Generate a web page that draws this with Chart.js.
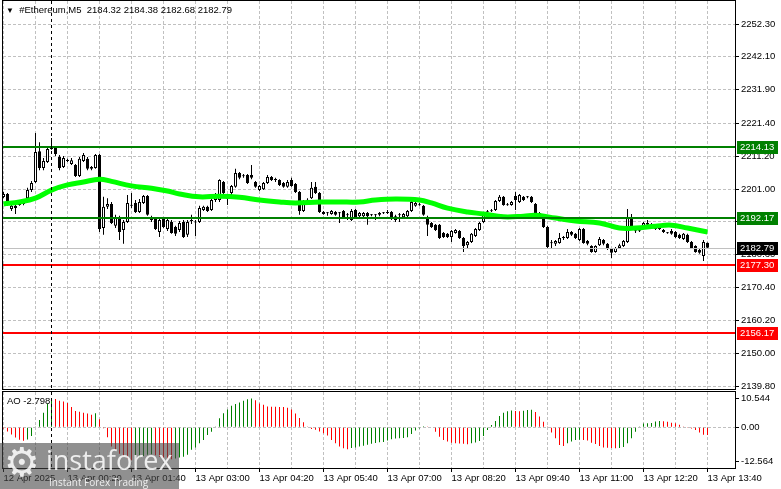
<!DOCTYPE html>
<html>
<head>
<meta charset="utf-8">
<title>#Ethereum M5</title>
<script src="https://cdn.jsdelivr.net/npm/chart.js@4.4.1/dist/chart.umd.min.js"></script>
<style>
    html, body { margin: 0; padding: 0; background: #ffffff; }
    #wrap { position: relative; width: 781px; height: 489px; overflow: hidden; background: #ffffff; }
    #priceCanvas { position: absolute; left: 0; top: 0; }
    #aoCanvas { position: absolute; left: 0; top: 390px; }
    .caption { position: absolute; font: 9.5px "Liberation Sans", Arial, sans-serif; color: #000; white-space: pre; }
    #watermark { position: absolute; left: 0; top: 443px; width: 179px; height: 46px; background: rgba(70, 70, 70, 0.6); overflow: hidden; }
    #wmIcon { position: absolute; left: 4px; top: -4px; font: 40px "DejaVu Sans", sans-serif; color: rgba(255, 255, 255, 0.85); }
    #wmName { position: absolute; left: 46px; top: -2px; font: 27px "Open Sans", sans-serif; color: rgba(255, 255, 255, 0.85); }
    #wmSlogan { position: absolute; left: 49px; top: 32px; font: 10px "Open Sans", sans-serif; color: rgba(255, 255, 255, 0.85); }
</style>
</head>
<body>
<div id="wrap">
    <canvas id="priceCanvas" width="781" height="396"></canvas>
    <canvas id="aoCanvas" width="781" height="99"></canvas>
    <div class="caption" style="left:6px; top:4px;"><span style="font-size:8px;">&#9660;</span>  #Ethereum,M5  2184.32 2184.38 2182.68 2182.79</div>
    <div class="caption" style="left:7px; top:395px;">AO -2.798</div>
    <div id="watermark">
        <div id="wmIcon">&#9881;</div>
        <div id="wmName">instaforex</div>
        <div id="wmSlogan">Instant Forex Trading</div>
    </div>
</div>
<script>
// M5 candles, bar 0 = 12 Apr 23:00, bar 176 = 13 Apr 13:40
const opens = [
    2198.55, 2199.5, 2194.8, 2195.8, 2196.1, 2196.4, 2198.2, 2200.7, 2203.2, 2212.8,
    2207.6, 2209.4, 2213.5, 2214.1, 2211.0, 2207.9, 2210.0, 2208.8, 2208.5, 2205.1,
    2209.7, 2210.4, 2207.3, 2207.6, 2211.6, 2188.9, 2195.5, 2196.4, 2189.6, 2192.0,
    2188.3, 2190.8, 2196.1, 2196.7, 2193.9, 2196.7, 2198.9, 2192.3, 2191.7, 2187.7,
    2191.7, 2188.6, 2190.8, 2189.2, 2188.3, 2190.8, 2186.8, 2191.1, 2190.8, 2190.8,
    2194.5, 2195.5, 2194.5, 2197.6, 2197.6, 2203.2, 2198.6, 2199.8, 2201.7, 2206.0,
    2205.1, 2205.4, 2205.4, 2203.2, 2200.7, 2201.0, 2202.9, 2204.8, 2203.8, 2203.8,
    2202.9, 2201.7, 2203.8, 2202.6, 2200.1, 2194.2, 2197.4, 2198.2, 2201.7, 2199.8,
    2193.9, 2193.6, 2193.3, 2193.9, 2193.6, 2194.2, 2193.0, 2191.4, 2194.5, 2192.6,
    2192.6, 2193.6, 2193.0, 2192.9, 2193.0, 2193.5, 2193.9, 2193.9, 2191.4, 2192.9,
    2192.3, 2192.6, 2194.2, 2195.8, 2196.1, 2195.8, 2192.3, 2190.5, 2189.9, 2189.9,
    2187.4, 2187.1, 2186.1, 2187.4, 2188.0, 2185.8, 2183.6, 2184.6, 2186.4, 2188.3,
    2190.8, 2193.8, 2194.1, 2194.5, 2197.3, 2198.6, 2196.1, 2196.1, 2198.9, 2197.0,
    2198.6, 2198.5, 2198.6, 2196.4, 2193.6, 2191.7, 2189.2, 2184.2, 2184.0, 2184.3,
    2185.8, 2185.8, 2187.7, 2187.1, 2185.2, 2188.6, 2184.9, 2183.3, 2181.5, 2183.6,
    2185.2, 2184.0, 2182.4, 2181.5, 2182.7, 2183.3, 2184.6, 2192.0, 2188.0, 2187.9,
    2189.5, 2190.5, 2189.9, 2188.6, 2188.6, 2188.3, 2187.4, 2188.0, 2187.7, 2186.8,
    2185.5, 2186.8, 2184.6, 2183.3, 2182.1, 2180.2, 2184.32
];
const highs = [
    2200.11, 2199.8, 2196.1, 2196.1, 2197.3, 2197.6, 2201.4, 2203.5, 2218.4, 2215.6,
    2210.7, 2214.4, 2216.9, 2214.4, 2211.6, 2211.3, 2210.4, 2210.7, 2208.8, 2211.0,
    2212.2, 2211.0, 2208.2, 2211.9, 2211.9, 2198.6, 2198.2, 2197.0, 2193.0, 2192.7,
    2191.4, 2199.2, 2199.8, 2197.6, 2197.9, 2199.2, 2199.2, 2192.7, 2192.0, 2192.0,
    2192.0, 2191.7, 2191.4, 2189.6, 2191.1, 2191.4, 2191.4, 2193.0, 2191.4, 2195.8,
    2195.8, 2195.8, 2198.2, 2199.8, 2204.1, 2203.5, 2199.2, 2202.3, 2207.3, 2206.3,
    2205.7, 2205.7, 2208.5, 2203.5, 2202.3, 2203.2, 2205.4, 2205.1, 2204.5, 2204.1,
    2203.2, 2203.8, 2204.5, 2202.9, 2200.4, 2197.6, 2198.2, 2203.2, 2203.2, 2200.1,
    2194.2, 2193.9, 2194.5, 2194.2, 2193.9, 2194.5, 2193.6, 2194.8, 2194.8, 2193.9,
    2193.9, 2193.9, 2193.3, 2193.3, 2193.9, 2193.9, 2194.5, 2194.2, 2193.0, 2193.6,
    2193.6, 2194.5, 2197.6, 2197.6, 2196.7, 2196.1, 2192.7, 2190.8, 2190.2, 2190.2,
    2187.7, 2187.4, 2188.3, 2188.6, 2188.3, 2186.1, 2184.9, 2187.4, 2188.9, 2190.8,
    2193.9, 2194.5, 2194.8, 2197.6, 2199.2, 2198.9, 2196.7, 2197.3, 2200.1, 2199.5,
    2198.9, 2198.9, 2198.9, 2196.7, 2193.9, 2192.0, 2189.6, 2185.2, 2185.2, 2187.4,
    2186.4, 2188.6, 2188.0, 2187.4, 2188.9, 2188.9, 2185.2, 2183.6, 2183.6, 2186.1,
    2185.5, 2184.3, 2182.7, 2183.0, 2184.0, 2185.2, 2194.8, 2193.3, 2188.6, 2188.3,
    2190.8, 2191.4, 2190.5, 2189.9, 2188.9, 2188.6, 2187.7, 2188.6, 2188.0, 2187.1,
    2187.4, 2187.1, 2184.9, 2183.6, 2182.4, 2185.2, 2184.38
];
const lows = [
    2198.24, 2195.8, 2194.2, 2193.3, 2195.8, 2196.0, 2197.6, 2200.1, 2202.9, 2206.9,
    2206.9, 2209.1, 2213.2, 2211.3, 2206.9, 2207.6, 2209.4, 2208.5, 2204.8, 2204.8,
    2209.4, 2206.9, 2206.9, 2207.3, 2187.7, 2186.8, 2194.8, 2190.2, 2188.9, 2185.2,
    2184.0, 2190.5, 2195.1, 2193.6, 2193.6, 2196.4, 2192.7, 2190.8, 2188.3, 2186.1,
    2188.9, 2188.0, 2187.1, 2186.4, 2187.7, 2185.8, 2186.1, 2190.2, 2186.4, 2190.5,
    2194.2, 2193.9, 2194.2, 2197.0, 2197.0, 2199.2, 2196.1, 2199.2, 2201.4, 2204.1,
    2204.5, 2202.6, 2204.1, 2201.4, 2200.4, 2200.7, 2202.6, 2203.5, 2203.2, 2202.0,
    2201.4, 2201.4, 2201.7, 2199.8, 2193.0, 2193.9, 2197.0, 2197.9, 2199.5, 2193.6,
    2193.0, 2192.7, 2193.0, 2192.7, 2190.5, 2192.0, 2191.4, 2191.1, 2192.0, 2192.3,
    2192.3, 2189.9, 2192.6, 2191.4, 2192.6, 2193.3, 2193.3, 2191.4, 2190.8, 2190.8,
    2192.0, 2192.3, 2193.9, 2195.5, 2195.8, 2192.7, 2186.4, 2188.9, 2188.0, 2185.5,
    2185.8, 2185.8, 2184.6, 2187.1, 2185.5, 2181.5, 2182.7, 2184.3, 2186.1, 2188.0,
    2190.5, 2193.3, 2193.9, 2194.2, 2197.0, 2195.8, 2195.8, 2195.8, 2194.5, 2196.7,
    2197.3, 2198.2, 2196.7, 2193.3, 2193.0, 2188.9, 2182.7, 2182.7, 2183.3, 2184.0,
    2185.2, 2185.5, 2186.4, 2185.5, 2184.9, 2184.0, 2183.6, 2181.2, 2181.2, 2183.3,
    2183.6, 2182.1, 2179.6, 2181.2, 2182.4, 2183.0, 2184.3, 2188.9, 2187.4, 2187.7,
    2189.2, 2189.5, 2189.5, 2188.3, 2188.3, 2187.4, 2187.1, 2186.8, 2185.8, 2185.5,
    2185.2, 2184.3, 2182.4, 2181.2, 2180.9, 2178.7, 2182.68
];
const closes = [
    2199.48, 2196.1, 2195.8, 2195.1, 2196.7, 2197.0, 2200.7, 2202.9, 2212.5, 2207.6,
    2209.7, 2213.5, 2214.4, 2211.9, 2207.6, 2210.7, 2209.7, 2210.0, 2205.1, 2210.4,
    2211.6, 2207.3, 2207.9, 2211.6, 2188.6, 2195.5, 2196.4, 2190.5, 2192.3, 2187.7,
    2190.8, 2196.7, 2195.8, 2193.9, 2197.0, 2198.9, 2193.0, 2191.4, 2188.6, 2191.4,
    2189.2, 2191.4, 2187.4, 2187.1, 2190.5, 2186.1, 2190.8, 2191.4, 2190.6, 2195.1,
    2195.5, 2194.2, 2197.6, 2199.5, 2203.8, 2199.8, 2197.9, 2202.0, 2206.0, 2204.5,
    2205.0, 2202.9, 2204.5, 2201.7, 2202.0, 2202.9, 2204.8, 2203.8, 2203.9, 2202.3,
    2201.7, 2203.2, 2202.0, 2200.1, 2194.2, 2197.3, 2197.6, 2201.4, 2199.8, 2193.9,
    2193.3, 2193.5, 2194.2, 2193.0, 2193.5, 2192.3, 2192.9, 2194.2, 2192.3, 2193.6,
    2193.6, 2192.6, 2192.9, 2193.0, 2193.6, 2193.6, 2193.6, 2192.3, 2192.6, 2193.0,
    2193.3, 2194.2, 2197.0, 2196.7, 2196.0, 2193.0, 2189.9, 2189.2, 2188.3, 2185.8,
    2186.1, 2186.1, 2188.0, 2188.3, 2185.8, 2183.3, 2184.6, 2187.1, 2188.6, 2190.5,
    2193.3, 2193.9, 2194.2, 2197.3, 2198.6, 2196.1, 2196.0, 2197.0, 2197.6, 2199.2,
    2197.6, 2198.6, 2197.0, 2193.6, 2193.3, 2189.2, 2183.0, 2184.3, 2184.9, 2185.8,
    2185.9, 2187.7, 2186.8, 2185.8, 2188.6, 2184.3, 2184.0, 2181.5, 2183.3, 2185.5,
    2184.0, 2182.4, 2181.2, 2182.7, 2183.6, 2184.9, 2192.0, 2189.2, 2187.9, 2188.0,
    2190.5, 2189.9, 2189.8, 2189.5, 2188.7, 2187.7, 2187.3, 2187.1, 2186.1, 2185.8,
    2187.1, 2184.6, 2182.7, 2181.5, 2181.2, 2184.6, 2182.79
];

// Awesome Oscillator, one value per bar
const aoValues = [
    -0.4, -1.5, -2.6, -3.7, -4.5, -4.9, -4.4, -3.2, 0.3, 2.7,
    5.3, 8.7, 10.5, 10.3, 9.7, 9.4, 8.8, 7.4, 5.9, 5.7,
    5.3, 5.0, 4.6, 5.1, 2.9, -0.3, -3.6, -7.0, -8.2, -9.6,
    -10.6, -11.4, -12.0, -11.6, -11.0, -10.4, -10.0, -9.8, -10.2, -10.7,
    -11.2, -11.5, -11.6, -11.3, -11.0, -10.7, -10.0, -8.2, -7.3, -5.8,
    -4.6, -2.8, -1.6, 0.3, 3.3, 5.1, 6.5, 7.8, 8.5, 9.0,
    9.7, 10.2, 10.5, 9.8, 8.7, 8.2, 7.6, 7.5, 7.45, 7.4,
    7.35, 7.1, 6.5, 5.0, 3.4, 1.8, 0.1, -0.6, -0.9, -1.5,
    -2.2, -3.0, -4.6, -5.8, -7.0, -7.6, -8.0, -7.5, -7.3, -7.0,
    -6.7, -6.3, -6.0, -5.7, -5.4, -5.3, -4.8, -4.3, -4.1, -3.95,
    -3.85, -3.6, -2.4, -1.2, -0.4, 0.4, 0.1, -0.2, -1.6, -3.4,
    -4.6, -5.2, -5.6, -5.8, -5.9, -6.0, -6.2, -5.8, -5.5, -5.0,
    -3.2, -1.0, 0.8, 2.3, 4.1, 5.3, 5.8, 6.1, 5.9, 5.8,
    6.0, 6.3, 6.4, 5.6, 3.9, 2.0, 0.1, -1.9, -4.0, -6.4,
    -6.8, -5.8, -5.2, -4.6, -4.5, -4.6, -4.8, -5.6, -6.1, -6.8,
    -7.3, -7.4, -7.5, -7.6, -7.5, -7.2, -5.8, -4.0, -1.6, 0.1,
    1.4, 1.5, 1.6, 2.1, 2.3, 2.2, 2.0, 1.7, 1.5, 0.9,
    0.3, -0.1, -0.4, -1.0, -1.9, -2.7, -2.798
];

// moving average at these bars
const maBars = [0, 4, 8, 12, 16, 20, 24, 27, 32, 37, 41, 44, 49, 54, 59, 64, 69, 73, 79, 84,
    89, 93, 98, 104, 107, 111, 116, 120, 125, 130, 133, 138, 143, 149, 154, 158, 163, 167, 171, 176];
const maValues = [2196.4, 2197.0, 2198.2, 2200.7, 2202.3, 2203.2, 2204.1, 2203.4, 2202.0, 2201.3,
    2200.4, 2199.5, 2198.6, 2198.8, 2198.5, 2197.6, 2197.0, 2196.7, 2197.0, 2197.0,
    2197.0, 2197.6, 2197.9, 2197.6, 2196.7, 2195.1, 2193.9, 2193.3, 2192.4, 2192.6,
    2192.9, 2192.0, 2191.1, 2190.5, 2188.9, 2188.9, 2189.5, 2189.8, 2188.9, 2187.7];

const priceTicks = [2252.30, 2242.10, 2231.90, 2221.40, 2211.20, 2201.00, 2190.80, 2180.60, 2170.40, 2160.20, 2150.00, 2139.80];
const aoTicks = [10.544, 0, -12.564];
const timeLabels = ['12 Apr 2025', '13 Apr 00:20', '13 Apr 01:40', '13 Apr 03:00', '13 Apr 04:20', '13 Apr 05:40',
    '13 Apr 07:00', '13 Apr 08:20', '13 Apr 09:40', '13 Apr 11:00', '13 Apr 12:20', '13 Apr 13:40'];

const resistanceLevels = [2214.13, 2192.17];
const supportLevels = [2177.30, 2156.17];
const lastPrice = 2182.79;
const dayBreakBar = 12;

// Layout
const X_MIN = -0.125;
const X_MAX = 182.875;
const gridBars = [];
for (let i = 0; i <= 176; i += 8) gridBars.push(i);

const colors = {
    grid: '#c0c0c0',
    ma: '#00ff00',
    resistance: '#008000',
    support: '#ff0000',
    aoUp: '#008000',
    aoDown: '#ff0000'
};

Chart.defaults.font.family = '"Liberation Sans", Arial, sans-serif';
Chart.defaults.font.size = 9.5;
Chart.defaults.color = '#000';

function frameAndSeparator(chart) {
    const { ctx, chartArea: a, scales } = chart;
    const sx = scales.x.getPixelForValue(dayBreakBar);
    ctx.save();
    ctx.strokeStyle = '#000';
    ctx.lineWidth = 1;
    ctx.setLineDash([3, 3]);
    ctx.beginPath();
    ctx.moveTo(sx, a.top);
    ctx.lineTo(sx, a.bottom);
    ctx.stroke();
    ctx.setLineDash([]);
    ctx.strokeRect(a.left - 0.5, a.top - 0.5, a.right - a.left + 1, a.bottom - a.top + 1);
    ctx.restore();
}

const levelsPlugin = {
    id: 'levels',
    afterDatasetsDraw(chart) {
        const { ctx, chartArea: a, scales } = chart;
        ctx.save();
        const yLast = Math.round(scales.y.getPixelForValue(lastPrice)) + 0.5;
        ctx.strokeStyle = colors.grid;
        ctx.lineWidth = 1;
        ctx.beginPath();
        ctx.moveTo(a.left, yLast);
        ctx.lineTo(a.right, yLast);
        ctx.stroke();
        ctx.lineWidth = 2;
        resistanceLevels.forEach(p => {
            const y = Math.round(scales.y.getPixelForValue(p));
            ctx.strokeStyle = colors.resistance;
            ctx.beginPath(); ctx.moveTo(a.left, y); ctx.lineTo(a.right, y); ctx.stroke();
        });
        supportLevels.forEach(p => {
            const y = Math.round(scales.y.getPixelForValue(p));
            ctx.strokeStyle = colors.support;
            ctx.beginPath(); ctx.moveTo(a.left, y); ctx.lineTo(a.right, y); ctx.stroke();
        });
        ctx.restore();
        frameAndSeparator(chart);
    },
    afterDraw(chart) {
        const { ctx, chartArea: a, scales } = chart;
        const tags = [];
        resistanceLevels.forEach(p => tags.push([p, colors.resistance]));
        tags.push([lastPrice, '#000000']);
        supportLevels.forEach(p => tags.push([p, colors.support]));
        ctx.save();
        ctx.font = '9.5px "Liberation Sans", Arial, sans-serif';
        ctx.textBaseline = 'middle';
        tags.forEach(([p, c]) => {
            const y = Math.round(scales.y.getPixelForValue(p));
            ctx.fillStyle = c;
            ctx.fillRect(a.right + 2, y - 6, 41, 13);
            ctx.fillStyle = '#ffffff';
            ctx.fillText(p.toFixed(2), a.right + 5, y + 0.5);
        });
        ctx.restore();
    }
};

const aoFramePlugin = {
    id: 'aoFrame',
    afterDatasetsDraw(chart) {
        frameAndSeparator(chart);
    }
};

// Candles as floating bars
const wickData = [];
const bodyData = [];
const bodyColors = [];
for (let i = 0; i < opens.length; i++) {
    wickData.push({ x: i, y: [lows[i], highs[i]] });
    bodyData.push({ x: i, y: [opens[i], closes[i]] });
    if (Math.abs(closes[i] - opens[i]) < 0.35) bodyColors.push('#000000');
    else bodyColors.push(closes[i] > opens[i] ? '#ffffff' : '#000000');
}
const maData = maBars.map((b, k) => ({ x: b, y: maValues[k] }));

const aoData = aoValues.map((v, i) => ({ x: i, y: v }));
const aoColors = aoValues.map((v, i) => (i > 0 && v > aoValues[i - 1]) ? colors.aoUp : colors.aoDown);

function xScale(extra) {
    return Object.assign({
        type: 'linear',
        min: X_MIN,
        max: X_MAX,
        offset: false,
        afterBuildTicks: s => { s.ticks = gridBars.map(v => ({ value: v })); }
    }, extra);
}

function fixedYAxis(s) {
    s.width = 46;
    s.paddingTop = 0;
    s.paddingBottom = 0;
}

new Chart(document.getElementById('priceCanvas'), {
    type: 'bar',
    data: {
        datasets: [
            { type: 'line', label: 'MA', data: maData, borderColor: colors.ma, borderWidth: 5,
              pointRadius: 0, tension: 0.4, order: 0 },
            { label: 'Body', data: bodyData, backgroundColor: bodyColors, borderColor: '#000000',
              borderWidth: 1, borderSkipped: false, barPercentage: 0.75, categoryPercentage: 1,
              maxBarThickness: 3, minBarLength: 1, inflateAmount: 0, grouped: false, order: 1 },
            { label: 'Wick', data: wickData, backgroundColor: '#000000', barPercentage: 0.25,
              categoryPercentage: 1, maxBarThickness: 1, inflateAmount: 0, grouped: false, order: 2 }
        ]
    },
    options: {
        responsive: false,
        animation: false,
        layout: { padding: { left: 3, top: 1, right: 0, bottom: 7 } },
        plugins: { legend: { display: false }, tooltip: { enabled: false } },
        scales: {
            x: xScale({
                afterFit: s => { s.height = 0; },
                ticks: { display: false },
                grid: { offset: false, color: colors.grid, lineWidth: 1, drawTicks: false },
                border: { display: false, dash: [3, 2] }
            }),
            y: {
                position: 'right',
                min: 2138.90,
                max: 2259.45,
                afterBuildTicks: s => { s.ticks = priceTicks.map(v => ({ value: v })); },
                afterFit: fixedYAxis,
                ticks: { color: '#000', padding: 2, callback: v => Number(v).toFixed(2) },
                grid: { color: colors.grid, lineWidth: 1, tickColor: '#000', tickLength: 4, tickBorderDash: [] },
                border: { display: false, dash: [3, 2] }
            }
        }
    },
    plugins: [levelsPlugin]
});

new Chart(document.getElementById('aoCanvas'), {
    type: 'bar',
    data: {
        datasets: [
            { label: 'AO', data: aoData, backgroundColor: aoColors, barPercentage: 0.25,
              categoryPercentage: 1, maxBarThickness: 1, inflateAmount: 0, grouped: false }
        ]
    },
    options: {
        responsive: false,
        animation: false,
        layout: { padding: { left: 3, top: 2, right: 0, bottom: 0 } },
        plugins: { legend: { display: false }, tooltip: { enabled: false } },
        scales: {
            x: xScale({
                afterFit: s => { s.height = 21; },
                ticks: {
                    autoSkip: false, maxRotation: 0, minRotation: 0, align: 'start', padding: 1, color: '#000',
                    callback: v => (v % 16 === 0 ? timeLabels[v / 16] : '')
                },
                grid: {
                    offset: false, color: colors.grid, lineWidth: 1, tickLength: 4, tickBorderDash: [],
                    tickColor: c => (c.tick && c.tick.value % 16 === 0) ? '#000' : 'rgba(0,0,0,0)'
                },
                border: { display: false, dash: [3, 2] }
            }),
            y: {
                position: 'right',
                min: -14.8,
                max: 12.84,
                afterBuildTicks: s => { s.ticks = aoTicks.map(v => ({ value: v })); },
                afterFit: fixedYAxis,
                ticks: { color: '#000', padding: 2, callback: v => (v === 0 ? '0.00' : Number(v).toFixed(3)) },
                grid: {
                    color: c => (c.tick && c.tick.value === 0) ? colors.grid : 'rgba(0,0,0,0)',
                    lineWidth: 1, tickColor: '#000', tickLength: 4, tickBorderDash: []
                },
                border: { display: false, dash: [3, 2] }
            }
        }
    },
    plugins: [aoFramePlugin]
});
</script>
</body>
</html>
